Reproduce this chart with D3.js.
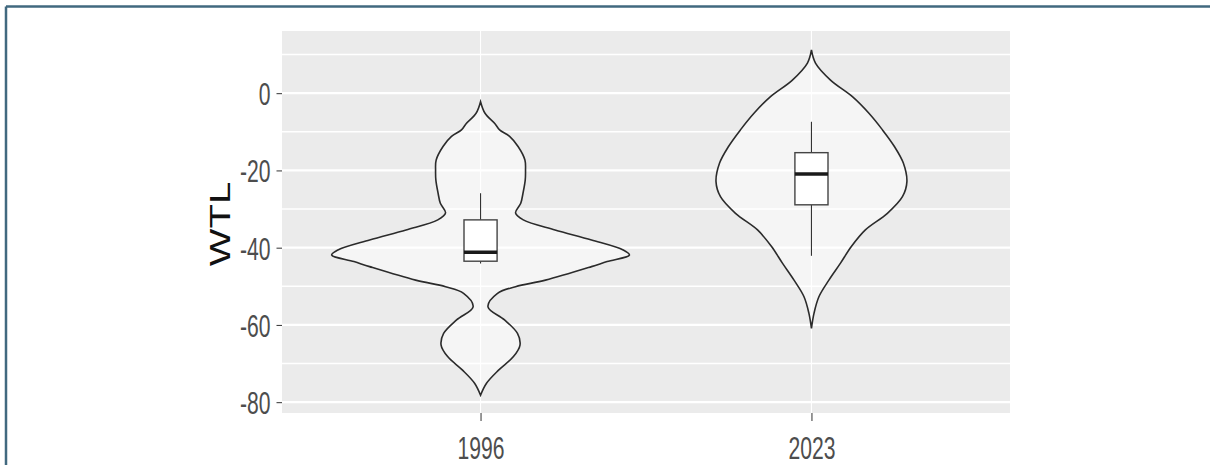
<!DOCTYPE html>
<html>
<head>
<meta charset="utf-8">
<script src="https://cdn.jsdelivr.net/npm/d3@7"></script>
<style>
  body { margin: 0; background: #fff; }
  svg { display: block; }
</style>
</head>
<body>
<div id="chart"></div>
<script>
// categories and tick values
const years = ["1996", "2023"];
const yMajor = [-80, -60, -40, -20, 0];
const yMinor = [-70, -50, -30, -10, 10];

// violin outlines: WTL value and relative density (1 = widest violin)
const wtl1996 = [-2.2, -5.2, -7.9, -9.5, -11.2, -13.8, -17.3, -20, -22.5, -25.9, -28.5, -31.0, -32.8, -35.4, -38.0, -40.6, -41.9, -43.6, -44.9, -48.4, -50.1, -51.8, -55.3, -58.7, -62.2, -65.2, -68.2, -71.7, -75.1, -78.2];
const dens1996 = [0, 0.03, 0.097, 0.128, 0.195, 0.252, 0.298, 0.302, 0.300, 0.285, 0.27, 0.235, 0.287, 0.5, 0.745, 0.958, 1.0, 0.85, 0.745, 0.436, 0.235, 0.114, 0.05, 0.161, 0.248, 0.265, 0.221, 0.121, 0.04, 0];
const wtl2023 = [11.2, 7.8, 3.4, -0.9, -5.2, -9.5, -13.8, -18.1, -22.9, -26.8, -31.1, -35.4, -39.7, -44.0, -48.4, -52.7, -57.0, -60.9];
const dens2023 = [0, 0.027, 0.128, 0.275, 0.386, 0.477, 0.557, 0.617, 0.641, 0.611, 0.51, 0.362, 0.268, 0.195, 0.117, 0.05, 0.017, 0];

// boxplot stats: lower whisker, q1, median, q3, upper whisker
const box1996 = [-44.1, -43.5, -41.2, -32.8, -25.9];
const box2023 = [-42.1, -28.9, -20.9, -15.4, -7.4];

const width = 1210, height = 465;
const panel = {left: 282, right: 1010, top: 31, bottom: 413};

const svg = d3.select("#chart").append("svg")
    .attr("width", width)
    .attr("height", height);

// frame
svg.append("line").attr("x1", 6).attr("y1", 6.5).attr("x2", width).attr("y2", 6.5)
    .attr("stroke", "#41697f").attr("stroke-width", 2.5);
svg.append("line").attr("x1", 6).attr("y1", 6.5).attr("x2", 6).attr("y2", height)
    .attr("stroke", "#41697f").attr("stroke-width", 2.5);

const x = d3.scalePoint()
    .domain(years)
    .range([panel.left, panel.right])
    .padding(0.6);

const y = d3.scaleLinear()
    .domain([-82.8, 16.1])
    .range([panel.bottom, panel.top]);

const halfMax = x.step() * 0.45;

// panel background and grid
svg.append("rect")
    .attr("x", panel.left).attr("y", panel.top)
    .attr("width", panel.right - panel.left)
    .attr("height", panel.bottom - panel.top)
    .attr("fill", "#ebebeb");

svg.append("g").selectAll("line")
    .data(yMinor)
    .enter().append("line")
    .attr("x1", panel.left).attr("x2", panel.right)
    .attr("y1", d => y(d)).attr("y2", d => y(d))
    .attr("stroke", "#fff").attr("stroke-width", 1.6);

svg.append("g").selectAll("line")
    .data(yMajor)
    .enter().append("line")
    .attr("x1", panel.left).attr("x2", panel.right)
    .attr("y1", d => y(d)).attr("y2", d => y(d))
    .attr("stroke", "#fff").attr("stroke-width", 2.2);

svg.append("g").selectAll("line")
    .data(years)
    .enter().append("line")
    .attr("x1", d => x(d)).attr("x2", d => x(d))
    .attr("y1", panel.top).attr("y2", panel.bottom)
    .attr("stroke", "#fff").attr("stroke-width", 1.1);

// violins
const violins = [
    {year: "1996", wtl: wtl1996, dens: dens1996, box: box1996},
    {year: "2023", wtl: wtl2023, dens: dens2023, box: box2023}
];

violins.forEach(v => {
    const cx = x(v.year);
    const pts = v.wtl.map((w, i) => ({w: w, d: v.dens[i]}));
    const area = d3.area()
        .curve(d3.curveCatmullRom)
        .y(d => y(d.w))
        .x0(d => cx - d.d * halfMax)
        .x1(d => cx + d.d * halfMax);
    svg.append("path")
        .datum(pts)
        .attr("d", area)
        .attr("fill", "#fff")
        .attr("fill-opacity", 0.5)
        .attr("stroke", "#2b2b2b")
        .attr("stroke-width", 1.6);

    // boxplot
    const bw = x.step() * 0.1;
    const [lo, q1, med, q3, hi] = v.box;
    const g = svg.append("g");
    g.append("line")
        .attr("x1", cx).attr("x2", cx)
        .attr("y1", y(hi)).attr("y2", y(q3))
        .attr("stroke", "#333").attr("stroke-width", 1.1);
    g.append("line")
        .attr("x1", cx).attr("x2", cx)
        .attr("y1", y(q1)).attr("y2", y(lo))
        .attr("stroke", "#333").attr("stroke-width", 1.1);
    g.append("rect")
        .attr("x", cx - bw / 2).attr("y", y(q3))
        .attr("width", bw).attr("height", y(q1) - y(q3))
        .attr("fill", "#fff")
        .attr("stroke", "#444").attr("stroke-width", 1.4);
    g.append("line")
        .attr("x1", cx - bw / 2).attr("x2", cx + bw / 2)
        .attr("y1", y(med)).attr("y2", y(med))
        .attr("stroke", "#1a1a1a").attr("stroke-width", 3.5);
});

// axes
const yAxis = svg.append("g")
    .attr("transform", "translate(" + panel.left + ",0)")
    .call(d3.axisLeft(y).tickValues(yMajor).tickSize(5.5).tickFormat(d => String(d)));
yAxis.select(".domain").remove();
yAxis.selectAll(".tick line").attr("stroke", "#333");
yAxis.selectAll(".tick text")
    .attr("x", 0).attr("dy", null)
    .attr("transform", "translate(-11.5,11.5) scale(0.66,1)")
    .attr("fill", "#4d4d4d")
    .style("font-family", "'Liberation Sans', Arial, sans-serif")
    .style("font-size", "32px")
    .style("text-anchor", "end");

const xAxis = svg.append("g")
    .attr("transform", "translate(0," + panel.bottom + ")")
    .call(d3.axisBottom(x).tickSize(8));
xAxis.select(".domain").remove();
xAxis.selectAll(".tick line").attr("stroke", "#333");
xAxis.selectAll(".tick text")
    .attr("y", 0).attr("dy", null)
    .attr("transform", "translate(0,45.5) scale(0.66,1)")
    .attr("fill", "#4d4d4d")
    .style("font-family", "'Liberation Sans', Arial, sans-serif")
    .style("font-size", "32px")
    .style("text-anchor", "middle");

// y title
svg.append("text")
    .attr("transform", "translate(230," + ((panel.top + panel.bottom) / 2 + 2) + ") scale(0.76,1) rotate(-90)")
    .attr("text-anchor", "middle")
    .attr("fill", "#111")
    .style("font-family", "'Liberation Sans', Arial, sans-serif")
    .style("font-size", "40px")
    .text("WTL");
</script>
</body>
</html>
